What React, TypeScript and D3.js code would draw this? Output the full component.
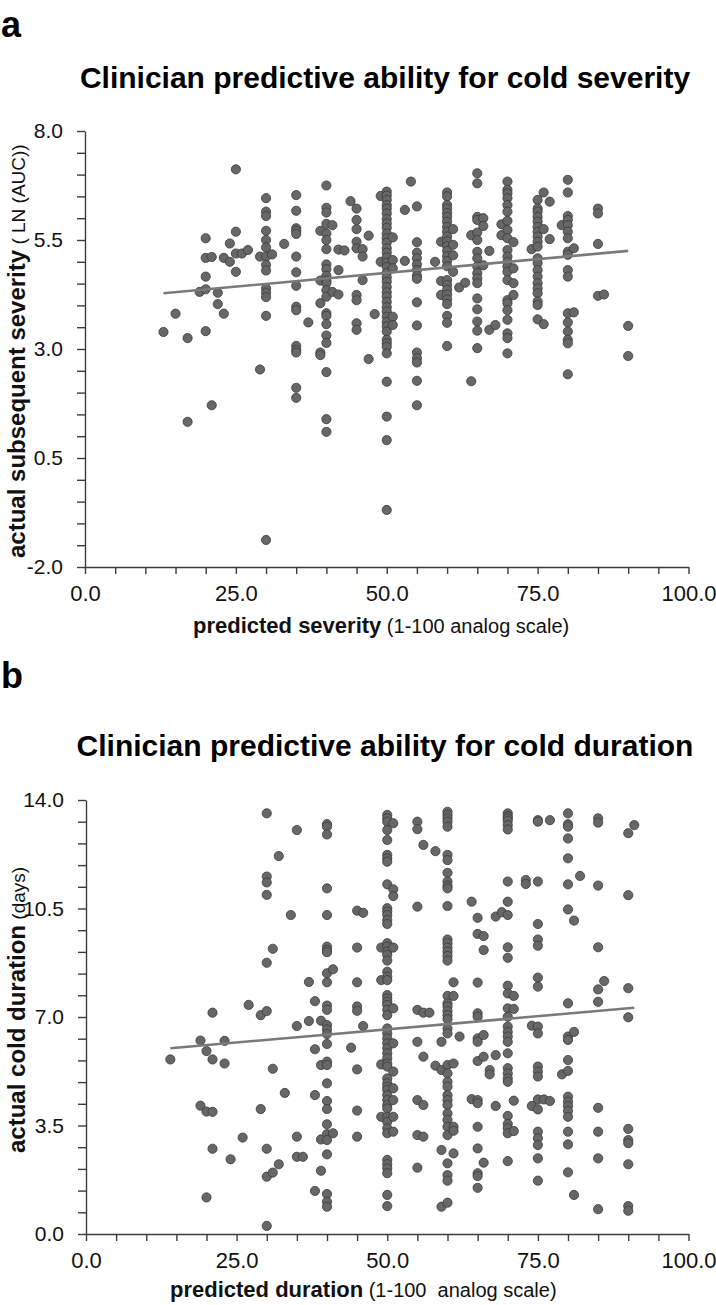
import React, { useEffect, useRef } from 'react';
import * as d3 from 'd3';

type Column = [number, number[]];

// panel a: predicted severity (x) vs actual LN(AUC) (y), grouped by x value
const severityColumns: Column[] = [
  [13, [3.39]],
  [15, [3.81]],
  [17, [3.25, 1.33]],
  [19, [4.31]],
  [20, [5.54, 5.09, 4.66, 4.37, 3.41]],
  [21, [5.11, 1.71]],
  [22, [4.29, 4.03]],
  [23, [3.81, 5.09]],
  [24, [5.42, 5.0]],
  [25, [7.12, 5.69, 5.19, 4.77]],
  [26, [5.19]],
  [27, [5.27]],
  [29, [5.12, 2.53]],
  [30, [6.46, 6.15, 6.05, 5.71, 5.5, 5.33, 5.12, 4.93, 4.8, 4.39, 4.29, 4.19, 3.76, -1.38]],
  [31, [5.17]],
  [33, [5.41]],
  [35, [6.53, 6.17, 5.77, 5.71, 5.64, 5.12, 4.76, 4.45, 3.97, 3.89, 3.07, 2.98, 2.92, 2.11, 1.88]],
  [37, [3.61]],
  [39, [5.71, 4.57, 4.05, 2.92, 2.86]],
  [40, [6.75, 6.24, 6.13, 5.87, 5.65, 5.5, 5.29, 4.94, 4.83, 4.68, 4.57, 4.51, 4.35, 4.2, 3.82, 3.76, 3.57, 3.31, 3.14, 2.47, 1.39, 1.1]],
  [41, [5.84, 4.31]],
  [42, [5.28, 4.81, 4.25]],
  [43, [5.26]],
  [44, [6.39]],
  [45, [6.22, 5.96, 5.75, 5.46, 5.31, 4.24, 4.12, 3.59, 3.44]],
  [46, [5.29, 5.12, 4.58]],
  [47, [5.6, 2.77]],
  [48, [3.8]],
  [49, [6.51, 5.0]],
  [50, [6.61, 6.52, 6.42, 6.3, 6.22, 6.11, 5.98, 5.88, 5.78, 5.65, 5.54, 5.44, 5.31, 5.21, 5.1, 4.98, 4.88, 4.75, 4.64, 4.54, 4.42, 4.3, 4.2, 4.08, 3.96, 3.86, 3.74, 3.62, 3.52, 3.4, 3.21, 3.13, 3.05, 2.9, 2.25, 1.45, 0.91, -0.69]],
  [51, [5.56, 5.04, 4.85, 3.74, 3.55]],
  [53, [6.19, 5.02]],
  [54, [6.84]],
  [55, [6.27, 5.45, 5.21, 5.08, 4.94, 4.81, 4.68, 4.61, 4.07, 3.54, 2.92, 2.79, 2.69, 2.27, 1.71]],
  [58, [5.0]],
  [59, [5.46, 4.56, 4.24]],
  [60, [6.59, 6.5, 6.3, 6.22, 6.12, 6.03, 5.92, 5.8, 5.69, 5.58, 5.47, 5.36, 5.25, 5.13, 5.02, 4.9, 4.58, 4.47, 4.36, 4.25, 4.14, 4.03, 3.76, 3.6, 3.07]],
  [61, [5.75, 5.39, 5.15, 4.77]],
  [62, [4.41]],
  [63, [4.52]],
  [64, [5.61, 2.26]],
  [65, [7.03, 6.8, 6.03, 5.96, 5.67, 5.5, 5.23, 5.08, 4.89, 4.74, 4.62, 4.51, 4.16, 3.91, 3.63, 3.42, 3.02]],
  [66, [6.0, 5.82, 4.92]],
  [67, [5.25, 3.44]],
  [68, [3.55]],
  [69, [5.86, 5.61]],
  [70, [6.84, 6.65, 6.57, 6.46, 6.3, 6.15, 5.94, 5.73, 5.54, 5.27, 5.12, 5.0, 4.89, 4.77, 4.58, 4.12, 4.05, 3.89, 3.67, 3.36, 3.25, 2.9]],
  [71, [5.45, 4.85, 4.51, 4.24]],
  [74, [5.29]],
  [75, [6.42, 6.22, 6.15, 6.03, 5.92, 5.8, 5.69, 5.58, 5.46, 5.35, 5.08, 4.97, 4.81, 4.66, 4.51, 4.39, 4.28, 4.09, 4.01, 3.68]],
  [76, [6.59, 5.75, 3.57]],
  [77, [6.38, 5.52]],
  [79, [5.84]],
  [80, [6.88, 6.59, 6.05, 5.96, 5.84, 5.69, 5.54, 5.23, 5.16, 4.81, 4.66, 3.82, 3.61, 3.4, 3.21, 3.13, 2.42]],
  [81, [5.31, 3.84]],
  [85, [6.22, 6.11, 5.41, 4.22]],
  [86, [4.25]],
  [90, [3.53, 2.84]],
];
const severityFit: [number, number][] = [[13, 4.28], [90, 5.25]];
const severityYTicks = [-2, 0.5, 3, 5.5, 8];

// panel b: predicted duration (x) vs actual cold duration in days (y)
const durationColumns: Column[] = [
  [14, [5.63]],
  [19, [6.24, 4.14]],
  [20, [5.9, 3.95, 1.18]],
  [21, [7.14, 5.63, 3.94, 2.75]],
  [23, [6.23, 5.5]],
  [24, [2.41]],
  [26, [3.11]],
  [27, [7.39]],
  [29, [7.06, 4.03]],
  [30, [13.57, 11.53, 11.34, 10.94, 8.75, 7.19, 2.75, 1.85, 0.26]],
  [31, [9.2, 5.33, 1.98]],
  [32, [12.19, 2.25]],
  [33, [4.55]],
  [34, [10.29]],
  [35, [13.03, 6.71, 3.14, 2.49]],
  [36, [2.49]],
  [37, [8.13, 6.87]],
  [38, [7.51, 5.96, 4.48, 1.39]],
  [39, [6.88, 5.45, 3.05, 2.04]],
  [40, [13.22, 13.14, 12.89, 11.15, 10.29, 9.27, 9.16, 9.09, 8.41, 8.12, 7.37, 7.23, 6.74, 6.6, 6.45, 6.13, 5.56, 5.45, 4.86, 4.29, 4.03, 3.54, 3.22, 3.03, 2.57, 1.29, 1.04, 0.88]],
  [41, [8.54, 3.25]],
  [44, [6.01]],
  [45, [10.43, 9.24, 8.12, 7.34, 7.2, 5.31, 3.98, 3.14]],
  [46, [10.36, 6.71]],
  [49, [9.24, 8.19, 5.47, 3.78]],
  [50, [13.52, 13.41, 13.3, 13.03, 12.71, 12.23, 12.12, 12.01, 11.28, 10.51, 10.4, 10.29, 10.13, 10.0, 9.38, 9.27, 9.11, 9.0, 8.82, 8.46, 8.3, 8.19, 7.71, 7.6, 7.49, 7.39, 7.23, 7.06, 6.63, 6.47, 6.31, 6.15, 5.99, 5.83, 5.67, 5.5, 5.4, 5.02, 4.86, 4.75, 4.65, 4.48, 4.32, 4.16, 4.05, 3.78, 3.62, 3.41, 3.25, 2.39, 2.25, 2.12, 1.96, 1.26, 0.9]],
  [51, [13.25, 11.12, 10.9, 9.24, 7.28, 6.15, 5.24, 4.7, 4.32, 3.78, 3.3]],
  [55, [13.3, 13.06, 10.56, 7.23, 6.2, 4.32, 3.19, 2.14]],
  [56, [12.55, 7.14, 5.72, 4.16, 3.14]],
  [57, [7.14]],
  [58, [12.35, 5.43]],
  [59, [6.2, 5.29, 2.71, 0.88]],
  [60, [13.62, 13.52, 13.41, 13.3, 13.14, 12.23, 12.06, 11.65, 11.37, 11.23, 11.15, 10.58, 9.5, 9.38, 9.24, 9.11, 8.97, 8.82, 7.68, 7.44, 7.34, 7.19, 7.06, 6.93, 6.63, 6.47, 5.45, 5.18, 4.91, 4.75, 4.48, 4.32, 4.16, 3.89, 3.68, 3.46, 3.19, 2.28, 1.9, 1.72, 1.01]],
  [61, [8.12, 7.68, 5.5, 3.46, 3.33, 2.6]],
  [62, [6.37]],
  [64, [10.72, 4.35]],
  [65, [10.2, 9.68, 8.11, 7.12, 7.01, 6.31, 6.2, 5.58, 4.32, 4.22, 3.46, 2.76, 1.96, 1.87, 1.49]],
  [66, [9.61, 9.16, 6.42, 5.72, 2.3]],
  [67, [5.29, 5.15]],
  [68, [10.24, 5.77, 4.13]],
  [69, [10.38]],
  [70, [13.57, 13.48, 13.41, 13.33, 13.19, 13.05, 11.37, 10.72, 10.29, 9.25, 8.91, 8.01, 7.76, 7.28, 7.01, 6.69, 6.52, 6.37, 6.2, 5.83, 5.35, 5.18, 5.02, 4.91, 3.81, 3.55, 3.41, 3.25, 2.35]],
  [71, [7.68, 7.26, 4.3, 3.32]],
  [73, [11.42, 11.29]],
  [74, [6.72, 4.13]],
  [75, [13.35, 13.3, 11.37, 10.0, 9.5, 9.3, 8.27, 7.98, 6.69, 6.47, 5.4, 5.24, 5.08, 4.34, 4.02, 3.3, 3.09, 2.87, 2.44, 1.72]],
  [76, [4.34]],
  [77, [13.35, 4.29]],
  [79, [5.15]],
  [80, [13.57, 13.22, 13.14, 12.76, 12.12, 11.28, 10.47, 7.44, 6.37, 6.26, 5.61, 5.26, 4.43, 4.27, 4.13, 3.97, 3.78, 3.3, 2.89, 1.99]],
  [81, [10.11, 6.52, 1.26]],
  [82, [11.55]],
  [85, [13.41, 13.27, 11.24, 9.25, 7.89, 7.49, 4.07, 3.3, 2.44, 0.8]],
  [86, [8.16]],
  [90, [12.93, 10.93, 7.93, 6.99, 3.39, 3.03, 2.93, 2.25, 0.9, 0.75]],
  [91, [13.19]],
];
const durationFit: [number, number][] = [[14, 5.99], [91, 7.3]];
const durationYTicks = [0, 3.5, 7, 10.5, 14];

const xTicks = [0, 25, 50, 75, 100];

const FONT = '"Liberation Sans", Arial, Helvetica, sans-serif';
const AXIS_COLOR = '#3c3c3c';

interface PanelProps {
  columns: Column[];
  fit: [number, number][];
  yTicks: number[];
  yMinorStep: number;
  left: number;
  right: number;
  top: number;
  bottom: number;
}

function Panel({ columns, fit, yTicks, yMinorStep, left, right, top, bottom }: PanelProps) {
  const axisRef = useRef<SVGGElement>(null);
  const yDomain: [number, number] = [yTicks[0], yTicks[yTicks.length - 1]];
  const x = d3.scaleLinear().domain([0, 100]).range([left, right]);
  const y = d3.scaleLinear().domain(yDomain).range([bottom, top]);

  useEffect(() => {
    if (!axisRef.current) return;
    const g = d3.select(axisRef.current);
    g.selectAll('*').remove();

    const near = (list: number[], v: number) => list.find(t => Math.abs(t - v) < 1e-6);
    const xMinor = d3.range(0, 100.001, 5);
    const yMinor = d3.range(yDomain[0], yDomain[1] + 1e-6, yMinorStep);

    const xAxis = d3.axisBottom(x)
      .tickValues(xMinor)
      .tickSize(7)
      .tickSizeOuter(0)
      .tickPadding(11)
      .tickFormat(d => {
        const m = near(xTicks, +d);
        return m === undefined ? '' : m.toFixed(1);
      });
    const yAxis = d3.axisLeft(y)
      .tickValues(yMinor)
      .tickSize(8)
      .tickSizeOuter(0)
      .tickPadding(14)
      .tickFormat(d => {
        const m = near(yTicks, +d);
        return m === undefined ? '' : m.toFixed(1);
      });

    const gx = g.append('g').attr('transform', `translate(0,${bottom})`).call(xAxis);
    const gy = g.append('g').attr('transform', `translate(${left},0)`).call(yAxis);

    g.selectAll('.domain, .tick line')
      .attr('stroke', AXIS_COLOR)
      .attr('stroke-width', 1.4);
    g.selectAll('.tick text')
      .attr('font-family', FONT)
      .attr('fill', '#111');
    gx.selectAll('.tick text').attr('font-size', 22);
    gy.selectAll('.tick text').attr('font-size', 21);
  }, []);

  const line = d3.line<[number, number]>()
    .x(d => x(d[0]))
    .y(d => y(d[1]));

  return (
    <g>
      {columns.flatMap(([xv, ys]) =>
        ys.map((yv, i) => (
          <circle
            key={`${xv}-${i}`}
            cx={x(xv)}
            cy={y(yv)}
            r={4.6}
            fill="#676767"
            stroke="#3a3a3a"
            strokeWidth={0.8}
          />
        ))
      )}
      <path d={line(fit) ?? ''} fill="none" stroke="#7a7a7a" strokeWidth={2.6} />
      <g ref={axisRef} />
    </g>
  );
}

export default function App() {
  return (
    <svg
      width={716}
      height={1305}
      style={{ position: 'absolute', left: 0, top: 0, background: '#fff' }}
      fontFamily={FONT}
    >
      {/* panel a */}
      <text x={1} y={37} fontSize={36} fontWeight="bold">a</text>
      <text x={385} y={88} fontSize={30} fontWeight="bold" textAnchor="middle">
        Clinician predictive ability for cold severity
      </text>
      <Panel
        columns={severityColumns}
        fit={severityFit}
        yTicks={severityYTicks}
        yMinorStep={0.5}
        left={85}
        right={688.5}
        top={131}
        bottom={567}
      />
      <text x={193} y={633} fill="#111">
        <tspan fontSize={22} fontWeight="bold">predicted severity</tspan>
        <tspan fontSize={20}>{' (1-100 analog scale)'}</tspan>
      </text>
      <text transform="translate(25,558) rotate(-90)" fill="#111">
        <tspan fontSize={24} fontWeight="bold">actual subsequent severity</tspan>
        <tspan fontSize={19}>{' ( LN (AUC))'}</tspan>
      </text>

      {/* panel b */}
      <text x={1} y={688} fontSize={36} fontWeight="bold">b</text>
      <text x={385} y={756} fontSize={30} fontWeight="bold" textAnchor="middle">
        Clinician predictive ability for cold duration
      </text>
      <Panel
        columns={durationColumns}
        fit={durationFit}
        yTicks={durationYTicks}
        yMinorStep={0.7}
        left={86}
        right={688.5}
        top={800}
        bottom={1234}
      />
      <text x={170} y={1297} fill="#111" style={{ whiteSpace: 'pre' }}>
        <tspan fontSize={22} fontWeight="bold">predicted duration</tspan>
        <tspan fontSize={20}>{' (1-100  analog scale)'}</tspan>
      </text>
      <text transform="translate(25,1153) rotate(-90)" fill="#111">
        <tspan fontSize={24} fontWeight="bold">actual cold duration</tspan>
        <tspan fontSize={19}>{' (days)'}</tspan>
      </text>
    </svg>
  );
}
